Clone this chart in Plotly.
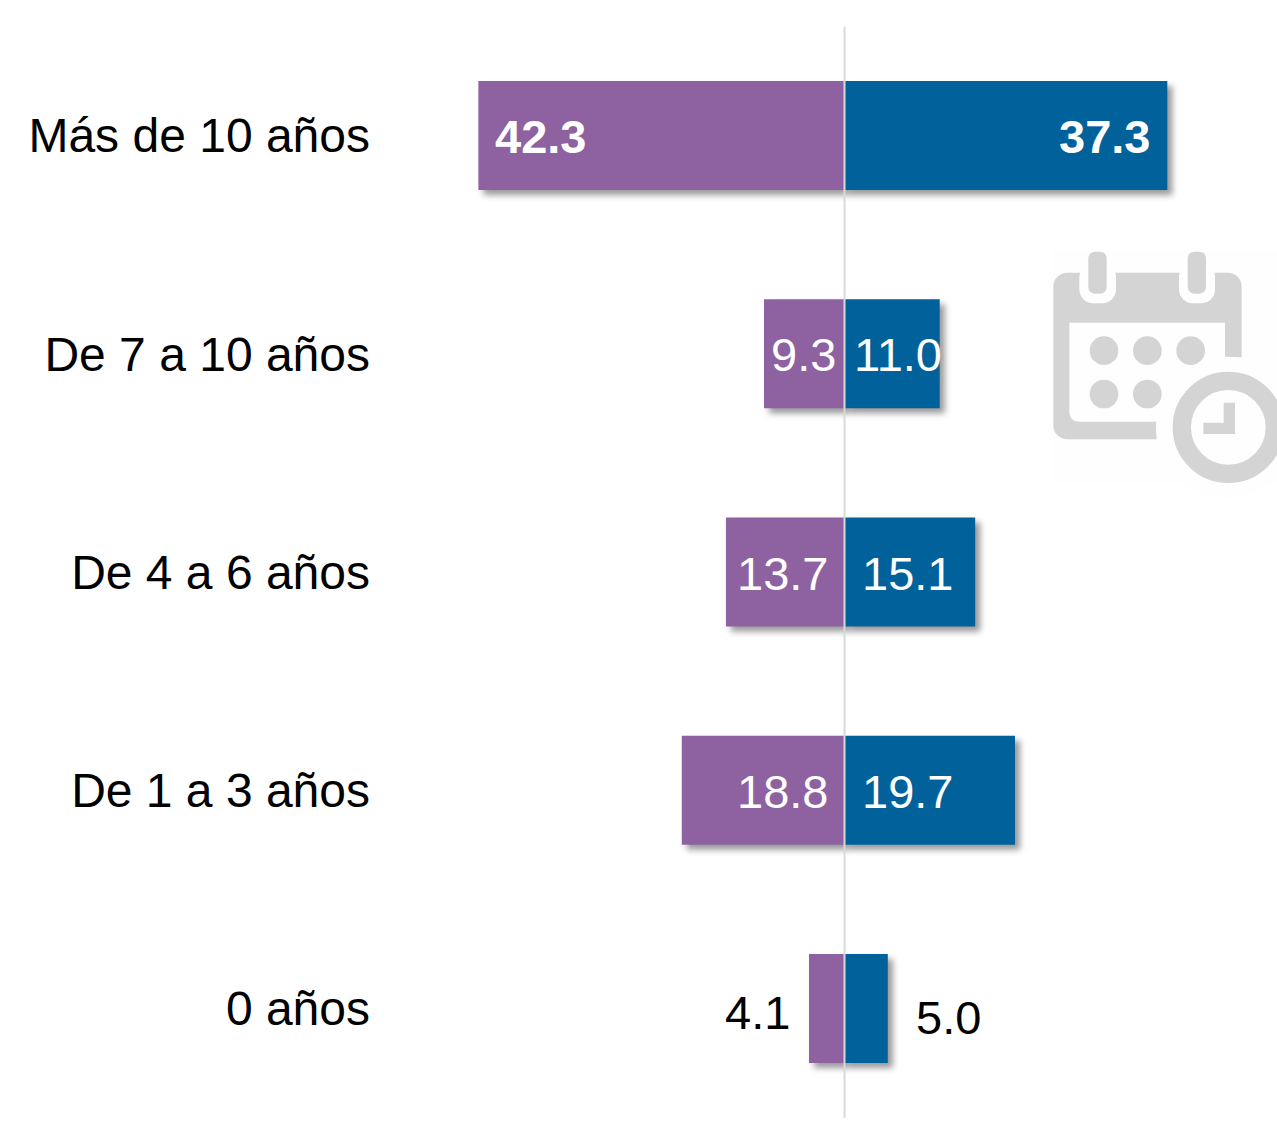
import base64
import plotly.graph_objects as go

categories = ["Más de 10 años", "De 7 a 10 años", "De 4 a 6 años", "De 1 a 3 años", "0 años"]
left_values = [42.3, 9.3, 13.7, 18.8, 4.1]
right_values = [37.3, 11.0, 15.1, 19.7, 5.0]

PURPLE = "#8E61A0"
BLUE = "#00619B"
W, H = 1277, 1135
MARGIN_L = 371
ZERO_PX, PX_PER_UNIT = 844.5, 8.655
ROW0_PX, ROW_STEP = 135.5, 218.25

# Label placement: (x reference: "end" bar end / "zero" axis, anchor, pixel shift, y shift, colour, bold)
left_style = [
    ("end", "left", 15, -0.5, "white", True),
    ("zero", "right", -7, -1, "white", False),
    ("zero", "right", -15, -1.5, "white", False),
    ("zero", "right", -15, -1.5, "white", False),
    ("zero", "right", -53, -3.5, "black", False),
]
right_style = [
    ("end", "right", -15, -0.5, "white", True),
    ("zero", "left", 7, -1, "white", False),
    ("zero", "left", 15, -1.5, "white", False),
    ("zero", "left", 15, -1.5, "white", False),
    ("zero", "left", 69, -8.5, "black", False),
]

fig = go.Figure()
fig.add_bar(y=categories, x=[-v for v in left_values], orientation="h",
            marker=dict(color=PURPLE, line_width=0), width=0.5, name="Izquierda")
fig.add_bar(y=categories, x=right_values, orientation="h",
            marker=dict(color=BLUE, line_width=0), width=0.5, name="Derecha")

annotations = []
for sign, values, styles in ((-1, left_values, left_style), (1, right_values, right_style)):
    for cat, v, (ref, anchor, dx, dy, color, bold) in zip(categories, values, styles):
        annotations.append(dict(
            x=sign * v if ref == "end" else 0, y=cat, xref="x", yref="y",
            text=f"<b>{v:.1f}</b>" if bold else f"{v:.1f}", showarrow=False,
            xanchor=anchor, yanchor="middle", xshift=dx, yshift=dy,
            font=dict(family="Liberation Sans, Arial, sans-serif", size=47, color=color),
        ))

G = "#D4D4D4"
BG = "#FEFEFE"
svg = f'''<svg xmlns="http://www.w3.org/2000/svg" viewBox="0 0 741 810" width="741" height="810">
<rect x="70" y="60" width="671" height="700" fill="{BG}"/>
<rect x="70" y="128" width="565" height="500" rx="42" fill="{G}"/>
<path d="M118 278H585V575H150Q118 575 118 543Z" fill="{BG}"/>
<path d="M585 382H640V640H380V575H585Z" fill="{BG}"/>
<circle cx="590" cy="592" r="212" fill="{BG}"/>
<rect x="148" y="100" width="110" height="120" rx="42" fill="{BG}"/>
<rect x="447" y="100" width="108" height="120" rx="42" fill="{BG}"/>
<rect x="175" y="65" width="55" height="126" rx="20" fill="{G}"/>
<rect x="473" y="65" width="55" height="126" rx="20" fill="{G}"/>
<circle cx="222" cy="362" r="43" fill="{G}"/><circle cx="352" cy="362" r="43" fill="{G}"/>
<circle cx="482" cy="362" r="43" fill="{G}"/><circle cx="222" cy="492" r="43" fill="{G}"/>
<circle cx="352" cy="492" r="43" fill="{G}"/>
<circle cx="595" cy="592" r="139.5" fill="none" stroke="{G}" stroke-width="55"/>
<path d="M581 518H615V612H520V578H581Z" fill="{G}"/>
</svg>'''
icon_uri = "data:image/svg+xml;base64," + base64.b64encode(svg.encode()).decode()
plot_w = W - MARGIN_L

fig.update_layout(
    width=W, height=H, autosize=False,
    margin=dict(l=MARGIN_L, r=0, t=0, b=0, pad=0),
    paper_bgcolor="white", plot_bgcolor="rgba(0,0,0,0)",
    barmode="overlay", showlegend=False,
    xaxis=dict(visible=False,
               range=[(MARGIN_L - ZERO_PX) / PX_PER_UNIT, (W - ZERO_PX) / PX_PER_UNIT]),
    yaxis=dict(type="category", categoryorder="array", categoryarray=categories,
               range=[(H - ROW0_PX) / ROW_STEP, -ROW0_PX / ROW_STEP],
               showgrid=False, zeroline=False, showline=False, ticks="",
               tickfont=dict(family="Liberation Sans, Arial, sans-serif", size=48, color="black")),
    shapes=[dict(type="line", xref="x", yref="y", x0=0, x1=0, y0=-0.5, y1=4.5,
                 line=dict(color="#D9D9D9", width=2), layer="above")],
    annotations=annotations,
    images=[dict(source=icon_uri, xref="paper", yref="paper",
                 x=(1030 - MARGIN_L) / plot_w, y=1 - 230 / H,
                 sizex=247 / plot_w, sizey=270 / H, sizing="stretch",
                 xanchor="left", yanchor="top", layer="below")],
)

post = """
document.documentElement.style.margin='0';
document.body.style.margin='0';
document.body.style.overflow='hidden';
document.querySelectorAll('.barlayer .point path').forEach(function(p){
  p.style.filter='drop-shadow(5px 5px 3px rgba(0,0,0,0.4))';
});
"""
fig.write_html("out.html", post_script=post, config=dict(displayModeBar=False))
